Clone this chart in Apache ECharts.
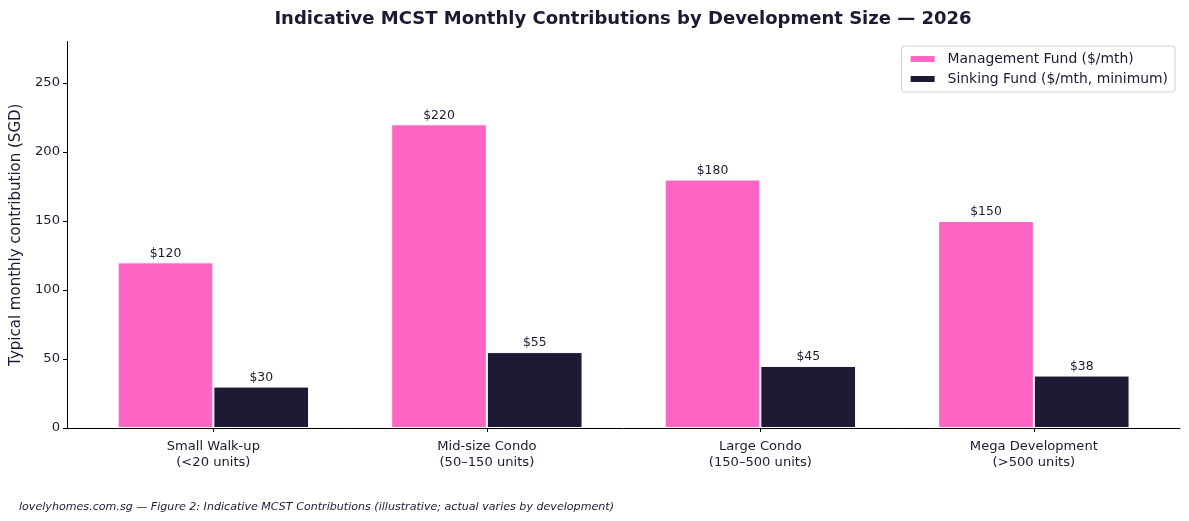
<!DOCTYPE html>
<html>
<head>
<meta charset="utf-8">
<script src="https://cdn.jsdelivr.net/npm/echarts@6/dist/echarts.min.js"></script>
<style>
  html, body { margin: 0; padding: 0; background: #fff; }
  #main { width: 1189px; height: 521px; }
</style>
</head>
<body>
<div id="main"></div>
<script>
var categories = ['Small Walk-up\n(<20 units)', 'Mid-size Condo\n(50–150 units)', 'Large Condo\n(150–500 units)', 'Mega Development\n(>500 units)'];
var managementFund = [120, 220, 180, 150];
var sinkingFund = [30, 55, 45, 38];
var yTicks = [0, 50, 100, 150, 200, 250];

var ink = '#1c1a33';
var font = 'DejaVu Sans';

var myChart = echarts.init(document.getElementById('main'));

var option = {
    backgroundColor: '#fff',
    textStyle: { fontFamily: font, color: ink },
    title: [{
        text: 'Indicative MCST Monthly Contributions by Development Size — 2026',
        left: 623,
        textAlign: 'center',
        top: 10,
        padding: 0,
        textStyle: { fontFamily: font, fontSize: 18, fontWeight: 'bold', color: ink }
    }, {
        text: 'lovelyhomes.com.sg — Figure 2: Indicative MCST Contributions (illustrative; actual varies by development)',
        left: 19,
        top: 502,
        padding: 0,
        textStyle: { fontFamily: font, fontSize: 11.1, fontStyle: 'italic', fontWeight: 'normal', color: ink }
    }],
    legend: {
        orient: 'vertical',
        right: 14,
        top: 46,
        padding: [6, 7, 6, 7],
        itemGap: 6,
        itemWidth: 26,
        itemHeight: 8,
        borderColor: '#d0d0d0',
        borderWidth: 1,
        borderRadius: 3,
        icon: 'rect',
        textStyle: { fontFamily: font, fontSize: 13.9, color: ink, padding: [0, 0, 0, 7] },
        data: ['Management Fund ($/mth)', 'Sinking Fund ($/mth, minimum)']
    },
    grid: [
        // outer frame (spines + y ticks)
        { left: 67, right: 9, top: 41.5, bottom: 93, containLabel: false },
        // inner grid that holds the bars (matplotlib style margins)
        { left: 76.6, right: 18.4, top: 41.5, bottom: 93, containLabel: false }
    ],
    xAxis: [{
        gridIndex: 0,
        type: 'value',
        min: 0,
        max: 1,
        axisLine: { show: true, lineStyle: { color: '#000', width: 1 } },
        axisTick: { show: false },
        axisLabel: { show: false },
        splitLine: { show: false }
    }, {
        gridIndex: 1,
        type: 'category',
        data: categories,
        axisLine: { show: false },
        axisTick: { show: true, alignWithLabel: true, length: 4, lineStyle: { color: '#000' } },
        axisLabel: { fontFamily: font, fontSize: 13.1, color: ink, lineHeight: 16, margin: 11 },
        splitLine: { show: false }
    }],
    yAxis: [{
        gridIndex: 0,
        type: 'value',
        min: 0,
        max: 280,
        name: 'Typical monthly contribution (SGD)',
        nameLocation: 'middle',
        nameGap: 40.5,
        nameTextStyle: { fontFamily: font, fontSize: 15, color: ink },
        axisLine: { show: true, lineStyle: { color: '#000', width: 1 } },
        axisTick: { show: true, length: 4, lineStyle: { color: '#000' }, customValues: yTicks },
        axisLabel: { fontFamily: font, fontSize: 13.1, color: ink, margin: 7, customValues: yTicks },
        splitLine: { show: false }
    }, {
        gridIndex: 1,
        type: 'value',
        min: 0,
        max: 280,
        show: false
    }],
    series: [{
        name: 'Management Fund ($/mth)',
        type: 'bar',
        xAxisIndex: 1,
        yAxisIndex: 1,
        barWidth: 95.7,
        barGap: '0%',
        itemStyle: { color: '#ff66c4', borderColor: '#fff', borderWidth: 1 },
        label: {
            show: true,
            position: 'top',
            distance: 3,
            fontFamily: font,
            fontSize: 12.4,
            color: ink,
            formatter: function (p) { return '$' + p.value; }
        },
        data: managementFund
    }, {
        name: 'Sinking Fund ($/mth, minimum)',
        type: 'bar',
        xAxisIndex: 1,
        yAxisIndex: 1,
        barWidth: 95.7,
        barGap: '0%',
        itemStyle: { color: '#1e1a36', borderColor: '#fff', borderWidth: 1 },
        label: {
            show: true,
            position: 'top',
            distance: 3,
            fontFamily: font,
            fontSize: 12.4,
            color: ink,
            formatter: function (p) { return '$' + p.value; }
        },
        data: sinkingFund
    }]
};

myChart.setOption(option);
</script>
</body>
</html>
